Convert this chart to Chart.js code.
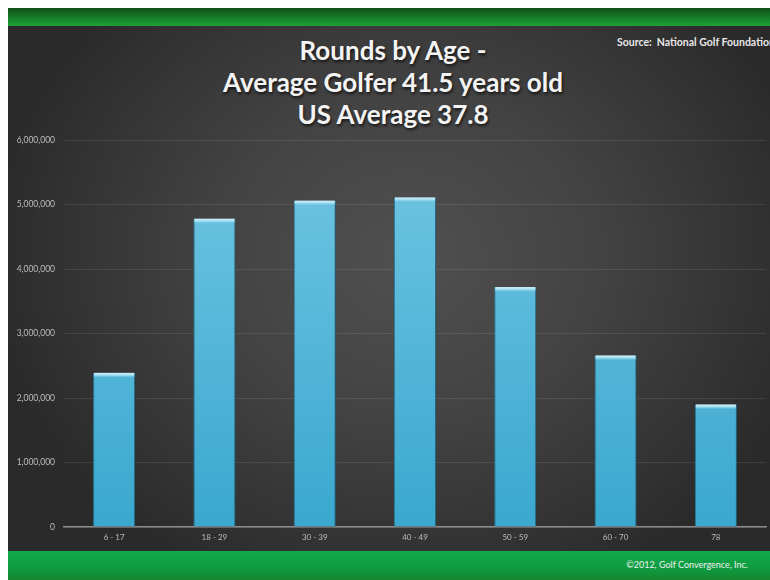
<!DOCTYPE html>
<html>
<head>
<meta charset="utf-8">
<title>Rounds by Age</title>
<script src="https://cdn.jsdelivr.net/npm/chart.js@4/dist/chart.umd.min.js"></script>
<style>
  html, body { margin: 0; padding: 0; background: #fff; }
  body { width: 770px; height: 580px; position: relative; overflow: hidden; }
  .slide {
    position: absolute; left: 8px; top: 8px; width: 762px; height: 572px; overflow: hidden;
    background: radial-gradient(ellipse 420px 360px at 400px 250px, #505050 0%, #434343 45%, #313131 85%, #2a2a2a 100%);
  }
  .band-top {
    position: absolute; left: 0; top: 0; width: 100%; height: 18px;
    background: linear-gradient(#0f4f17, #178a2e 70%, #1fa03a);
  }
  .band-bottom {
    position: absolute; left: 0; top: 543px; width: 100%; height: 29px;
    background: linear-gradient(#12aa4a, #0f9b40 60%, #17852d);
  }
  .title {
    position: absolute; left: 4px; top: 26px; width: 100%; text-align: center;
    font-family: Lato, sans-serif; font-weight: bold; font-size: 26px; line-height: 32px;
    color: #f4f4f4; text-shadow: 1px 2px 3px rgba(0,0,0,0.7);
  }
  .source {
    position: absolute; left: 609px; top: 28px; white-space: nowrap;
    font-family: Lato, sans-serif; font-weight: bold; font-size: 10.5px; color: #e8e8e8;
  }
  .footer {
    position: absolute; right: 22px; top: 551px; white-space: nowrap;
    font-family: Lato, sans-serif; font-size: 9px; color: #f0f0f0;
  }
  canvas { position: absolute; left: 0; top: 0; }
</style>
</head>
<body>
<div class="slide">
  <div class="band-top"></div>
  <div class="band-bottom"></div>
  <div class="title">Rounds by Age -<br>Average Golfer 41.5 years old<br>US Average 37.8</div>
  <div class="source">Source:&nbsp; National Golf Foundation</div>
  <div class="footer">©2012, Golf Convergence, Inc.</div>
</div>
<canvas id="chart" width="770" height="580"></canvas>
<script>
// rounds played per age group
const ageGroups = ['6 - 17', '18 - 29', '30 - 39', '40 - 49', '50 - 59', '60 - 70', '78'];
const rounds = [2390000, 4780000, 5060000, 5110000, 3720000, 2660000, 1900000];
const yMax = 6000000;
const yStep = 1000000;

// blue column fill, lighter near the top
function barFill(context) {
  const area = context.chart.chartArea;
  if (!area) return '#4cb4d8';
  const g = context.chart.ctx.createLinearGradient(0, area.top, 0, area.bottom);
  g.addColorStop(0, '#72c6e2');
  g.addColorStop(1, '#3aa8cf');
  return g;
}

// soft shadow behind the columns and a bevelled cap on top of each
const barEffects = {
  id: 'barEffects',
  beforeDatasetsDraw(chart) {
    const ctx = chart.ctx;
    ctx.save();
    ctx.shadowColor = 'rgba(0,0,0,0.55)';
    ctx.shadowBlur = 5;
    ctx.shadowOffsetX = 1;
    ctx.shadowOffsetY = 1;
  },
  afterDatasetsDraw(chart) {
    const ctx = chart.ctx;
    ctx.restore();
    chart.getDatasetMeta(0).data.forEach(bar => {
      const left = bar.x - bar.width / 2;
      const cap = ctx.createLinearGradient(0, bar.y, 0, bar.y + 5);
      cap.addColorStop(0, '#d6f2fb');
      cap.addColorStop(0.5, '#9fdcf0');
      cap.addColorStop(1, 'rgba(116,200,227,0)');
      ctx.fillStyle = cap;
      ctx.fillRect(left + 1, bar.y, bar.width - 2, 5);
    });
  }
};

const ctx = document.getElementById('chart').getContext('2d');
new Chart(ctx, {
  type: 'bar',
  data: {
    labels: ageGroups,
    datasets: [{
      data: rounds,
      backgroundColor: barFill,
      borderColor: '#2e8db0',
      borderWidth: 1,
      categoryPercentage: 1,
      barPercentage: 0.42
    }]
  },
  options: {
    responsive: false,
    animation: false,
    layout: { padding: { left: 8, right: 4, top: 140, bottom: 33 } },
    plugins: { legend: { display: false }, tooltip: { enabled: false } },
    scales: {
      x: {
        grid: { display: false, drawTicks: false },
        border: { color: '#8c8c8c', width: 1.5 },
        ticks: { color: '#bdbdbd', font: { family: 'Lato', size: 8 }, padding: 6 },
        afterFit: s => { s.height = 20; }
      },
      y: {
        min: 0,
        max: yMax,
        grid: { color: 'rgba(255,255,255,0.09)', drawTicks: false },
        border: { display: false },
        ticks: {
          stepSize: yStep,
          color: '#bdbdbd',
          font: { family: 'Lato', size: 8.5 },
          padding: 9,
          callback: v => v.toLocaleString('en-US')
        },
        afterFit: s => { s.width = 56; }
      }
    }
  },
  plugins: [barEffects]
});
</script>
</body>
</html>
